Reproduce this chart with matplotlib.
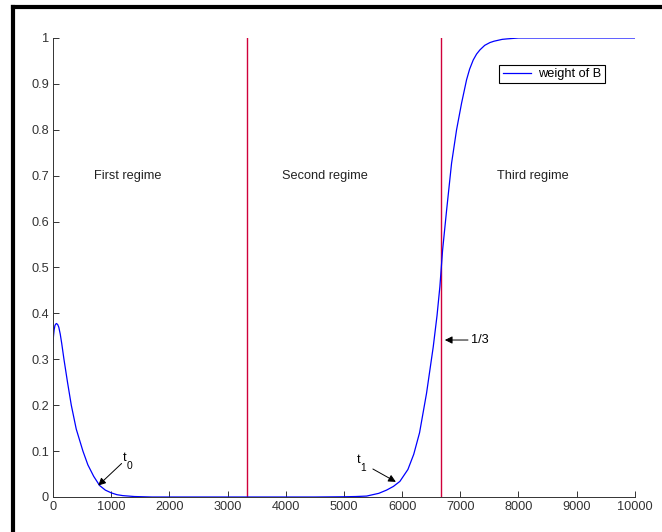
import matplotlib
matplotlib.use("Agg")
import matplotlib.pyplot as plt
from matplotlib.lines import Line2D

plt.rcParams['font.family'] = ['Liberation Sans', 'DejaVu Sans']

# weight of B
t = [0, 10, 20, 35, 57, 80, 100, 125, 150, 189, 250, 315, 400, 515, 600, 700,
     802, 900, 1002, 1100, 1200, 1400, 1700, 2500, 3500, 4500, 5000, 5200,
     5390, 5600, 5733, 5850, 5962, 6100, 6200, 6300, 6420, 6535, 6600, 6649,
     6696, 6765, 6850, 6936, 7022, 7108, 7160, 7222, 7280, 7337, 7420, 7509,
     7580, 7650, 7720, 7800, 8000, 9000, 10000]
w = [0.335, 0.352, 0.364, 0.374, 0.378, 0.376, 0.370, 0.355, 0.335, 0.300,
     0.250, 0.200, 0.148, 0.100, 0.070, 0.045, 0.025, 0.015, 0.009, 0.005,
     0.003, 0.001, 0.0, 0.0, 0.0, 0.0, 0.0005, 0.001, 0.002, 0.008, 0.015,
     0.023, 0.034, 0.060, 0.093, 0.140, 0.226, 0.327, 0.395, 0.458, 0.538,
     0.625, 0.727, 0.800, 0.858, 0.909, 0.932, 0.952, 0.965, 0.974, 0.984,
     0.990, 0.993, 0.995, 0.997, 0.998, 1.0, 1.0, 1.0]

regime_bounds = [3333, 6667]
regime_names = ['First regime', 'Second regime', 'Third regime']
regime_x = [700, 3930, 7630]
regime_y = 0.70

xticks = list(range(0, 10001, 1000))
yticks = [0, 0.1, 0.2, 0.3, 0.4, 0.5, 0.6, 0.7, 0.8, 0.9, 1]
ytick_labels = ['0', '0.1', '0.2', '0.3', '0.4', '0.5', '0.6', '0.7', '0.8', '0.9', '1']

fs = 9.2

fig = plt.figure(figsize=(6.62, 5.32), dpi=100)
ax = fig.add_axes([0.080, 0.0658, 0.879, 0.8628])

for xb in regime_bounds:
    ax.plot([xb, xb], [0, 1], color='#d0003a', lw=1.0)
ax.plot(t, w, color='#0000ff', lw=0.9, label='weight of B')

for name, xr in zip(regime_names, regime_x):
    ax.text(xr, regime_y, name, fontsize=fs, ha='left', va='center', color='#222222')

arrow = dict(arrowstyle='-|>', color='black', lw=0.7, mutation_scale=11,
             shrinkA=0, shrinkB=0)
# t0
ax.annotate('', xy=(778, 0.025), xytext=(1180, 0.073), arrowprops=arrow)
ax.text(1200, 0.085, 't', fontsize=fs, ha='left', va='center')
ax.text(1265, 0.068, '0', fontsize=fs * 0.8, ha='left', va='center')
# t1
ax.annotate('', xy=(5893, 0.033), xytext=(5498, 0.061), arrowprops=arrow)
ax.text(5215, 0.080, 't', fontsize=fs, ha='left', va='center')
ax.text(5280, 0.063, '1', fontsize=fs * 0.8, ha='left', va='center')
# 1/3
ax.annotate('1/3', xy=(6735, 0.342), xytext=(7180, 0.342),
            fontsize=fs, ha='left', va='center', arrowprops=arrow)

ax.set_xlim(0, 10000)
ax.set_ylim(0, 1)
ax.set_xticks(xticks)
ax.set_xticklabels([str(v) for v in xticks])
ax.set_yticks(yticks)
ax.set_yticklabels(ytick_labels)
ax.tick_params(direction='in', length=4, width=0.7, labelsize=fs, colors='#333333', pad=3)
for s in ['top', 'right']:
    ax.spines[s].set_visible(False)
for s in ['left', 'bottom']:
    ax.spines[s].set_linewidth(0.7)
    ax.spines[s].set_color('#333333')

leg = ax.legend(loc='upper right', bbox_to_anchor=(0.948, 0.941), fontsize=fs,
                fancybox=False, edgecolor='black', framealpha=1, handlelength=2.2,
                borderpad=0.25, borderaxespad=0, handletextpad=0.6)
leg.get_frame().set_linewidth(0.8)

# outer frame (top and left edges visible)
fig.add_artist(Line2D([13 / 662, 1.0], [1 - 7 / 532, 1 - 7 / 532], color='black', lw=3,
                      transform=fig.transFigure, solid_capstyle='projecting'))
fig.add_artist(Line2D([13 / 662, 13 / 662], [0, 1 - 7 / 532], color='black', lw=3,
                      transform=fig.transFigure, solid_capstyle='projecting'))

fig.savefig('out.png', dpi=100)
